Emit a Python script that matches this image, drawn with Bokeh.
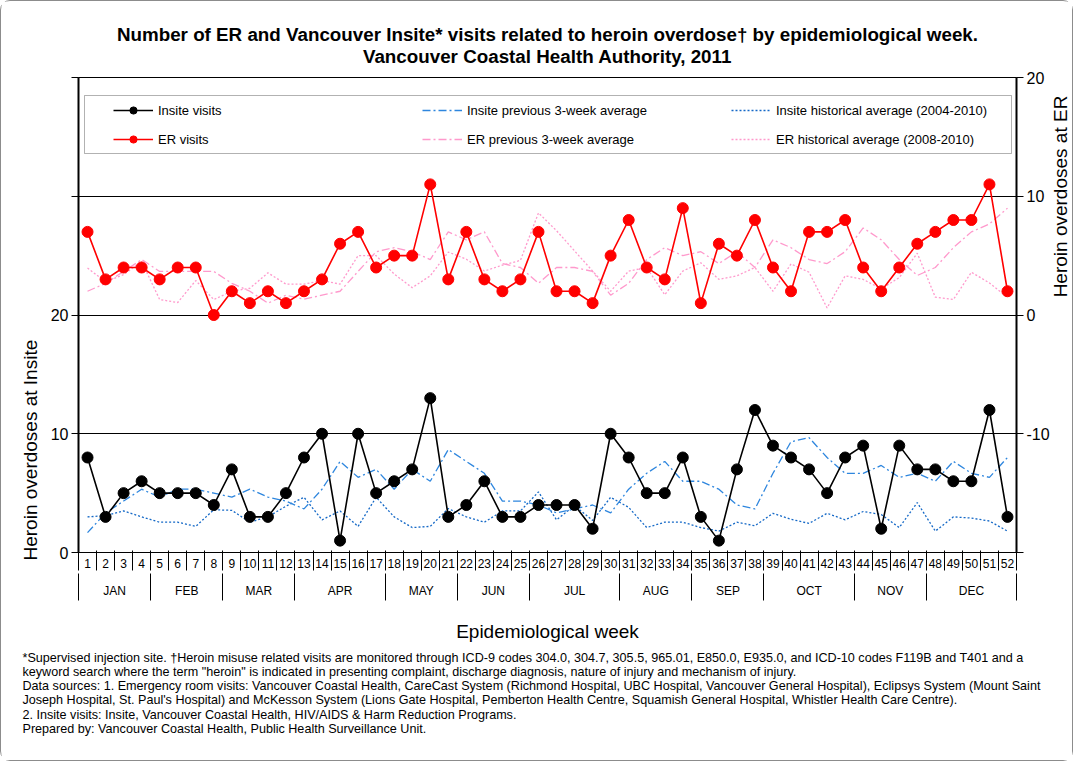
from math import pi
from bokeh.plotting import figure
from bokeh.models import (Range1d, LinearAxis, FixedTicker, Label, ColumnDataSource,
                          Legend, LegendItem, BoxAnnotation, Title)
from bokeh.embed import file_html
from bokeh.resources import INLINE

FONT = "Liberation Sans"

# ---------------- data ----------------
weeks = list(range(1, 53))
months = ["JAN", "FEB", "MAR", "APR", "MAY", "JUN", "JUL", "AUG", "SEP", "OCT", "NOV", "DEC"]
month_first_week = [1, 5, 9, 13, 18, 22, 26, 31, 35, 39, 44, 48]
month_last_week = [4, 8, 12, 17, 21, 25, 30, 34, 38, 43, 47, 52]

insite_visits = [8, 3, 5, 6, 5, 5, 5, 4, 7, 3,
                 3, 5, 8, 10, 1, 10, 5, 6, 7, 13,
                 3, 4, 6, 3, 3, 4, 4, 4, 2, 10,
                 8, 5, 5, 8, 3, 1, 7, 12, 9, 8,
                 7, 5, 8, 9, 2, 9, 7, 7, 6, 6,
                 12, 3]
insite_prev3 = [1.67, 3.33, 4.33, 5.33, 4.67, 5.33, 5.33, 5.0, 4.67, 5.33,
                4.67, 4.33, 3.67, 5.33, 7.67, 6.33, 7.0, 5.33, 7.0, 6.0,
                8.67, 7.67, 6.67, 4.33, 4.33, 4.0, 3.33, 3.67, 4.0, 3.33,
                5.33, 6.67, 7.67, 6.0, 6.0, 5.33, 4.0, 3.67, 6.67, 9.33,
                9.67, 8.0, 6.67, 6.67, 7.33, 6.33, 6.67, 6.0, 7.67, 6.67,
                6.33, 8.0]
insite_hist = [3.0, 3.1, 3.5, 3.0, 2.55, 2.55, 2.2, 3.6, 3.55, 2.55,
               3.0, 3.9, 4.65, 2.75, 3.5, 2.2, 4.65, 3.0, 2.1, 2.2,
               3.7, 3.0, 2.55, 3.5, 3.5, 5.1, 2.75, 3.95, 2.7, 4.65,
               3.8, 2.1, 2.55, 2.55, 2.1, 1.8, 2.55, 2.25, 3.3, 2.8,
               2.45, 3.3, 2.75, 3.45, 3.2, 2.1, 4.2, 1.8, 3.0, 2.9,
               2.65, 1.8]

er_visits = [7, 3, 4, 4, 3, 4, 4, 0, 2, 1,
             2, 1, 2, 3, 6, 7, 4, 5, 5, 11,
             3, 7, 3, 2, 3, 7, 2, 2, 1, 5,
             8, 4, 3, 9, 1, 6, 5, 8, 4, 2,
             7, 7, 8, 4, 2, 4, 6, 7, 8, 8,
             11, 2]
er_prev3 = [2.0, 2.67, 3.67, 4.67, 3.67, 3.67, 3.67, 3.67, 2.67, 2.0,
            1.0, 1.67, 1.33, 1.67, 2.0, 3.67, 5.33, 5.67, 5.33, 4.67,
            7.0, 6.33, 7.0, 4.33, 4.0, 2.67, 4.0, 4.0, 3.67, 1.67,
            2.67, 4.67, 5.67, 5.0, 5.33, 4.33, 5.33, 4.0, 6.33, 5.67,
            4.67, 4.33, 5.33, 7.33, 6.33, 4.67, 3.33, 4.0, 5.67, 7.0,
            7.67, 9.0]
er_hist = [3.95, 2.8, 3.4, 4.5, 1.3, 1.05, 2.9, 1.3, 2.0, 2.25,
           3.55, 2.6, 2.6, 2.9, 2.6, 5.0, 5.0, 3.45, 2.3, 3.3,
           5.3, 4.7, 3.7, 4.2, 4.6, 8.6, 7.1, 5.4, 3.7, 2.0,
           3.7, 4.0, 1.7, 3.7, 4.4, 3.0, 3.3, 4.0, 2.0, 4.3,
           3.6, 0.6, 3.3, 3.0, 2.2, 3.15, 5.2, 1.5, 1.3, 3.6,
           2.7, 1.5]

insite_ticks = [0, 10, 20, 30, 40]
er_ticks = [-20, -10, 0, 10, 20]

title_lines = ["Number of ER and Vancouver Insite* visits related to heroin overdose\u2020 by epidemiological week.",
               "Vancouver Coastal Health Authority, 2011"]
footnotes = [
    "*Supervised injection site. \u2020Heroin misuse related visits are monitored through ICD-9 codes 304.0, 304.7, 305.5, 965.01, E850.0, E935.0, and ICD-10 codes F119B and T401 and a",
    "keyword search where the term \"heroin\" is indicated in presenting complaint, discharge diagnosis, nature of injury and mechanism of injury.",
    "Data sources: 1. Emergency room visits: Vancouver Coastal Health, CareCast System (Richmond Hospital, UBC Hospital, Vancouver General Hospital), Eclipsys System (Mount Saint",
    "Joseph Hospital, St. Paul's Hospital) and McKesson System (Lions Gate Hospital, Pemberton Health Centre, Squamish General Hospital, Whistler Health Care Centre).",
    "2. Insite visits: Insite, Vancouver Coastal Health, HIV/AIDS & Harm Reduction Programs.",
    "Prepared by: Vancouver Coastal Health, Public Health Surveillance Unit.",
]

# ---------------- main figure ----------------
p = figure(width=1073, height=761, output_backend="svg", toolbar_location=None,
           x_range=Range1d(0.5, 52.5), y_range=Range1d(0, 40),
           x_axis_location=None,
           min_border_left=77, min_border_right=58, min_border_top=76, min_border_bottom=210,
           styles={"border": "1px solid #8c8c8c", "border-radius": "10px"})
p.extra_y_ranges = {"er": Range1d(-20, 20)}
p.outline_line_color = "black"
p.outline_line_width = 1
p.background_fill_color = "white"
p.border_fill_color = "white"

p.xgrid.visible = False
p.ygrid.ticker = FixedTicker(ticks=[10, 20, 30])
p.ygrid.grid_line_color = "black"
p.ygrid.grid_line_width = 1

def style_axis(ax):
    ax.axis_line_color = "black"
    ax.axis_line_width = 2
    ax.major_tick_line_color = "black"
    ax.major_tick_line_width = 1
    ax.major_tick_out = 7
    ax.major_tick_in = 0
    ax.minor_tick_line_color = None
    ax.major_label_text_font = FONT
    ax.major_label_text_font_size = "16px"
    ax.major_label_text_color = "black"
    ax.major_label_standoff = 3

yl = p.yaxis[0]
yl.ticker = FixedTicker(ticks=insite_ticks)
yl.major_label_overrides = {30: "", 40: ""}
style_axis(yl)

yr = LinearAxis(y_range_name="er", ticker=FixedTicker(ticks=er_ticks),
                major_label_overrides={-20: "", -10: "-10"})
style_axis(yr)
p.add_layout(yr, "right")

# --- category axis: week row, month row, separators ---
week_bounds = [w - 0.5 for w in weeks] + [weeks[-1] + 0.5]
month_mid = [(a + b) / 2 for a, b in zip(month_first_week, month_last_week)]
month_mid = [int(m) if m == int(m) else m for m in month_mid]
month_bounds = [m - 0.5 for m in month_first_week] + [month_last_week[-1] + 0.5]

ax_w = LinearAxis(ticker=FixedTicker(ticks=weeks))
ax_w.axis_line_color = "black"
ax_w.axis_line_width = 1
ax_w.major_tick_out = 0
ax_w.major_tick_in = 0
ax_w.minor_tick_out = 0
ax_w.minor_tick_in = 0
ax_w.major_tick_line_color = None
ax_w.minor_tick_line_color = None
ax_w.major_label_standoff = 6
ax_w.major_label_text_font = FONT
ax_w.major_label_text_font_size = "12px"
ax_w.major_label_text_color = "black"
p.add_layout(ax_w, "below")

ax_m = LinearAxis(ticker=FixedTicker(ticks=month_mid, minor_ticks=week_bounds),
                  major_label_overrides={m: n for m, n in zip(month_mid, months)})
ax_m.axis_line_color = None
ax_m.major_tick_out = 0
ax_m.major_tick_in = 0
ax_m.major_tick_line_color = None
ax_m.minor_tick_in = 20
ax_m.minor_tick_out = 0
ax_m.minor_tick_line_color = "black"
ax_m.minor_tick_line_width = 1
ax_m.major_label_standoff = 13
ax_m.major_label_text_font = FONT
ax_m.major_label_text_font_size = "12px"
ax_m.major_label_text_color = "black"
p.add_layout(ax_m, "below")

ax_s = LinearAxis(ticker=FixedTicker(ticks=month_bounds),
                  major_label_overrides={b: "" for b in month_bounds})
ax_s.axis_line_color = None
ax_s.major_tick_out = 0
ax_s.major_tick_in = 27
ax_s.major_tick_line_color = "black"
ax_s.major_tick_line_width = 1
ax_s.minor_tick_line_color = None
ax_s.minor_tick_in = 0
ax_s.minor_tick_out = 0
ax_s.major_label_standoff = 0
ax_s.major_label_text_font_size = "0px"
ax_s.axis_label = "Epidemiological week"
ax_s.axis_label_standoff = 20
ax_s.axis_label_text_font = FONT
ax_s.axis_label_text_font_size = "19px"
ax_s.axis_label_text_font_style = "normal"
ax_s.axis_label_text_color = "black"
p.add_layout(ax_s, "below")

# --- titles ---
p.add_layout(Title(text=" ", text_font_size="1px", standoff=8), "above")
p.add_layout(Title(text=title_lines[1], align="center", vertical_align="bottom", standoff=0,
                   text_font=FONT, text_font_size="18.8px", text_font_style="bold",
                   text_color="black"), "above")
p.add_layout(Title(text=title_lines[0], align="center", vertical_align="bottom", standoff=-3,
                   text_font=FONT, text_font_size="18.8px", text_font_style="bold",
                   text_color="black"), "above")

p.add_layout(Title(text="Heroin overdoses at Insite", align="left", offset=-8,
                   vertical_align="bottom", standoff=14, text_font=FONT,
                   text_font_size="19px", text_font_style="normal", text_color="black"), "left")

p.add_layout(Label(x=8, y=356, x_units="screen", y_units="screen",
                   text="Heroin overdoses at ER", angle=pi / 2,
                   text_font=FONT, text_font_size="19px", text_color="black",
                   text_align="center", text_baseline="middle"), "right")

p.add_layout(Title(text="\n".join(footnotes), align="left", offset=-56,
                   vertical_align="top", standoff=12, text_font=FONT,
                   text_font_size="12.6px", text_font_style="normal", text_color="black",
                   text_line_height=1.02), "below")

# --- series ---
src = ColumnDataSource(dict(week=weeks, insite=insite_visits, insite_prev=insite_prev3,
                            insite_hist=insite_hist, er=er_visits, er_prev=er_prev3,
                            er_hist=er_hist))

BLUE_DD = "#2E86DE"
BLUE_DOT = "#1569C7"
PINK = "#FF99CC"

r_ih = p.line("week", "insite_hist", source=src, color=BLUE_DOT, line_width=1.3, line_dash="2 2")
r_ip = p.line("week", "insite_prev", source=src, color=BLUE_DD, line_width=1.3, line_dash="8 3 2 3")
r_eh = p.line("week", "er_hist", source=src, color=PINK, line_width=1.3, line_dash="2 2", y_range_name="er")
r_ep = p.line("week", "er_prev", source=src, color=PINK, line_width=1.3, line_dash="8 3 2 3", y_range_name="er")

r_il = p.line("week", "insite", source=src, color="black", line_width=1.6)
r_is = p.scatter("week", "insite", source=src, color="black", size=11)
r_el = p.line("week", "er", source=src, color="#FF0000", line_width=1.6, y_range_name="er")
r_es = p.scatter("week", "er", source=src, color="#FF0000", size=11, y_range_name="er")

legend = Legend(items=[
    LegendItem(label="Insite visits", renderers=[r_il, r_is]),
    LegendItem(label="ER visits", renderers=[r_el, r_es]),
    LegendItem(label="Insite previous 3-week average", renderers=[r_ip]),
    LegendItem(label="ER previous 3-week average", renderers=[r_ep]),
    LegendItem(label="Insite historical average (2004-2010)", renderers=[r_ih]),
    LegendItem(label="ER historical average (2008-2010)", renderers=[r_eh]),
], orientation="vertical", nrows=2, location=(35, 404),
    glyph_width=40, glyph_height=18, label_height=18, label_width=253, label_standoff=5,
    spacing=11, padding=0, margin=0, border_line_color=None, background_fill_alpha=0,
    label_text_font=FONT, label_text_font_size="13px", label_text_color="black")
p.add_layout(legend)

p.add_layout(BoxAnnotation(left=6, right=933, bottom=399, top=457,
                           left_units="screen", right_units="screen",
                           bottom_units="screen", top_units="screen",
                           fill_alpha=0, line_color="black", line_width=1))

open("out.html", "w").write(file_html(p, INLINE))
